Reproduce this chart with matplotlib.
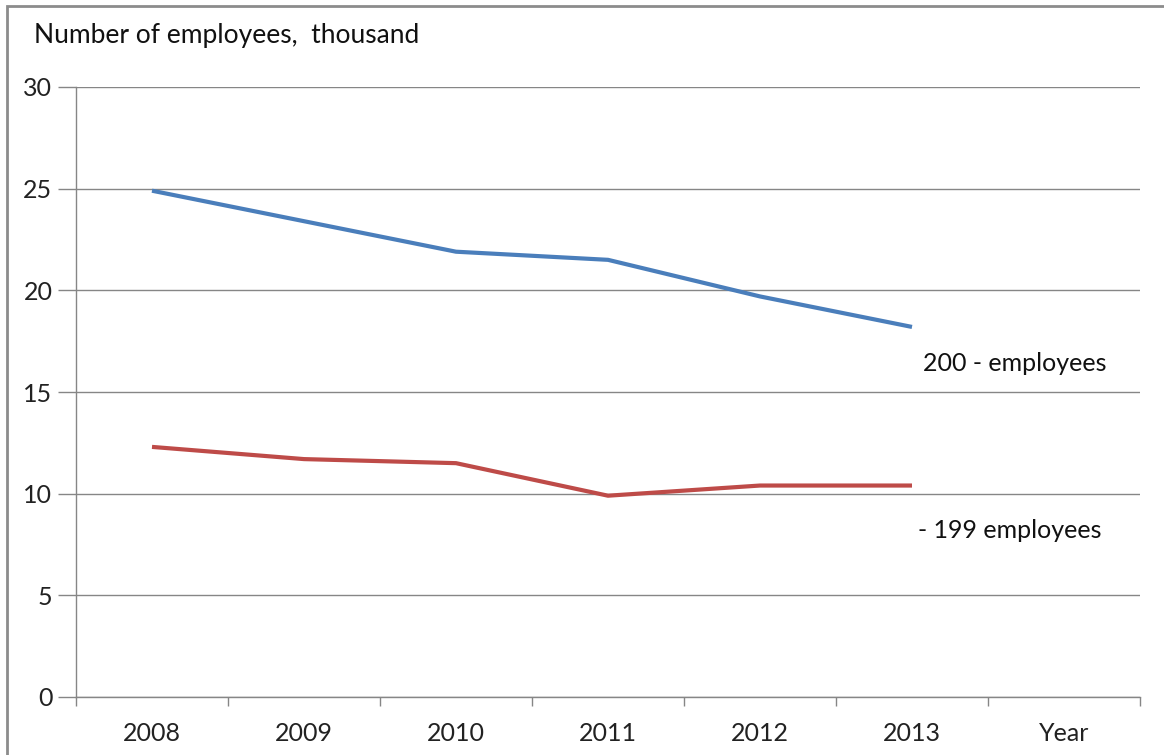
import matplotlib
matplotlib.use('agg')
import matplotlib.pyplot as plt
import matplotlib.patches as patches

# data (thousand employees)
years = ['2008', '2009', '2010', '2011', '2012', '2013']
large = [24.9, 23.4, 21.9, 21.5, 19.7, 18.2]   # 200 - employees
small = [12.3, 11.7, 11.5, 9.9, 10.4, 10.4]    # - 199 employees
xlabels = years + ['Year']

plt.rcParams['font.family'] = ['Lato', 'DejaVu Sans']
fs = 18

W, H = 1164, 755
fig = plt.figure(figsize=(W / 100, H / 100), dpi=100)
ax = fig.add_axes([76 / W, 1 - 697 / H, (1140 - 76) / W, (697 - 87) / H])

xs = list(range(len(years)))
ax.plot(xs, large, color='#4A7EBB', lw=3, solid_capstyle='butt')
ax.plot(xs, small, color='#BE4B48', lw=3, solid_capstyle='butt')

grey = '#868686'
ax.set_xlim(-0.5, len(xlabels) - 0.5)
ax.set_ylim(0, 30)
ax.set_yticks(range(0, 31, 5))
ax.yaxis.grid(True, color=grey, lw=1)
ax.set_axisbelow(True)

ax.set_xticks([i - 0.5 for i in range(len(xlabels) + 1)])
ax.set_xticklabels([])
ax.set_xticks(range(len(xlabels)), minor=True)
ax.set_xticklabels(xlabels, minor=True, fontsize=fs, color='#222222')
ax.tick_params(axis='x', which='major', length=6.5, width=1, color=grey)
ax.tick_params(axis='x', which='minor', length=0, pad=18)
ax.tick_params(axis='y', length=13, width=1, color=grey, labelsize=fs,
               labelcolor='#222222', pad=4)

for side in ['top', 'right']:
    ax.spines[side].set_visible(False)
for side in ['left', 'bottom']:
    ax.spines[side].set_color(grey)
    ax.spines[side].set_linewidth(1)

fig.text(34 / W, 1 - 35 / H, 'Number of employees,  thousand', fontsize=fs + 1,
         color='#111111', va='center', ha='left')
ax.text(len(years) - 1 + 0.07, 16.4, '200 - employees', fontsize=fs,
        color='#111111', va='center', ha='left')
ax.text(len(years) - 1 + 0.04, 8.2, '- 199 employees', fontsize=fs,
        color='#111111', va='center', ha='left')

# outer chart border (top-left corner visible)
fig.patches.append(patches.Rectangle((7 / W, -0.1), 1.2, 1 - 6 / H + 0.1,
                                     transform=fig.transFigure, fill=False,
                                     edgecolor='#8c8c8c', lw=2))

fig.savefig('out.png', dpi=100)
